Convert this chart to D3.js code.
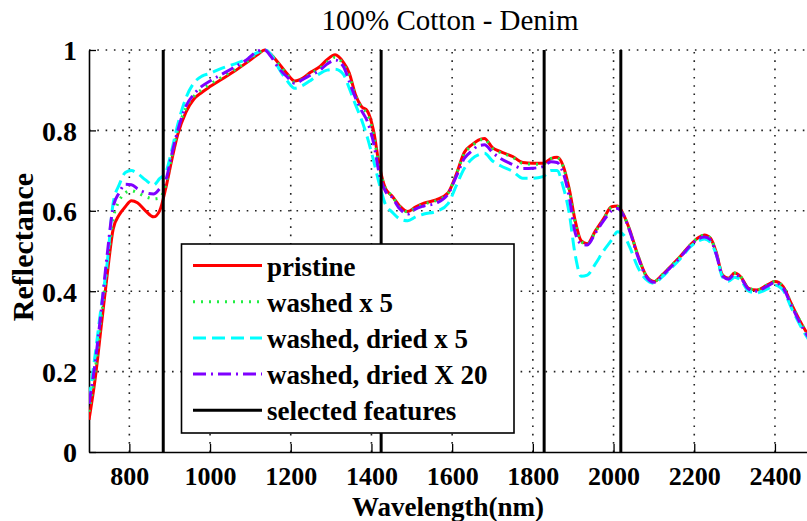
<!DOCTYPE html>
<html>
<head>
<meta charset="utf-8">
<script src="https://cdn.jsdelivr.net/npm/d3@7"></script>
<style>
  html, body { margin: 0; padding: 0; background: #fff; overflow: hidden; }
  svg { display: block; }
  text { font-family: "Liberation Serif", "Times New Roman", serif; fill: #000; }
</style>
</head>
<body>
<svg id="chart" width="807" height="521"></svg>
<script>
// Wavelength samples (nm)
const wavelength = [700, 715, 730, 745, 760, 775, 790, 805, 820, 840, 860, 875, 890, 905, 920, 940, 960, 980,
  1000, 1030, 1060, 1090, 1120, 1135, 1150, 1170, 1190, 1210, 1230, 1250, 1270, 1290, 1310, 1330, 1345, 1360,
  1375, 1390, 1405, 1420, 1435, 1450, 1470, 1490, 1510, 1530, 1560, 1590, 1610, 1630, 1650, 1665, 1680, 1700,
  1720, 1750, 1775, 1800, 1825, 1845, 1860, 1875, 1890, 1905, 1920, 1935, 1955, 1975, 1995, 2010, 2025, 2040,
  2060, 2080, 2100, 2120, 2140, 2165, 2190, 2210, 2225, 2240, 2255, 2270, 2285, 2300, 2315, 2335, 2355, 2380,
  2400, 2420, 2440, 2460, 2480, 2500];

// Normalised reflectance for each sample
const pristine = [.08, .18, .31, .44, .555, .59, .61, .625, .62, .60, .585, .60, .655, .726, .79, .845, .878, .895,
  .909, .928, .947, .968, .99, 1.0, .99, .967, .942, .923, .930, .945, .957, .976, .988, .97, .943, .89,
  .86, .848, .80, .71, .655, .638, .612, .598, .61, .619, .627, .645, .69, .745, .765, .776, .78, .757,
  .747, .735, .72, .718, .718, .73, .733, .712, .655, .575, .525, .518, .55, .58, .61, .612, .59, .553,
  .49, .44, .424, .44, .46, .486, .515, .533, .54, .532, .495, .44, .432, .445, .436, .407, .403, .415,
  .424, .412, .37, .33, .295, .27];

const washed5 = [.10, .20, .33, .46, .58, .625, .645, .65, .645, .635, .63, .632, .665, .735, .80, .855, .885, .902,
  .915, .933, .95, .97, .993, 1.0, .99, .965, .94, .92, .928, .942, .953, .97, .982, .965, .935, .888,
  .857, .84, .79, .705, .655, .638, .61, .597, .608, .617, .625, .644, .69, .742, .762, .774, .778, .755,
  .745, .733, .718, .716, .716, .73, .732, .71, .652, .57, .523, .517, .548, .578, .608, .61, .589, .552,
  .49, .44, .424, .44, .46, .486, .515, .533, .54, .532, .494, .44, .432, .445, .436, .407, .403, .415,
  .424, .412, .37, .33, .295, .27];

const washedDried5 = [.13, .24, .36, .47, .62, .665, .695, .70, .693, .677, .664, .68, .695, .75, .815, .88, .918, .935,
  .942, .955, .965, .977, .995, 1.0, .99, .955, .925, .905, .912, .925, .94, .95, .952, .94, .905, .865,
  .828, .782, .726, .665, .615, .598, .58, .575, .585, .592, .598, .618, .662, .705, .73, .739, .743, .724,
  .712, .698, .681, .681, .685, .70, .70, .66, .595, .49, .437, .44, .468, .50, .527, .548, .54, .51,
  .46, .43, .42, .435, .455, .48, .51, .525, .53, .522, .49, .435, .425, .435, .428, .40, .396, .405,
  .415, .403, .36, .32, .285, .26];

const washedDried20 = [.12, .22, .35, .49, .61, .645, .666, .665, .655, .645, .642, .655, .675, .74, .80, .86, .89, .91,
  .923, .94, .957, .975, .998, 1.0, .985, .955, .934, .917, .927, .938, .948, .965, .975, .96, .922, .882,
  .85, .822, .77, .69, .648, .635, .605, .592, .605, .612, .619, .642, .685, .73, .75, .762, .764, .745,
  .73, .715, .705, .706, .71, .722, .72, .695, .635, .545, .518, .515, .545, .575, .60, .606, .588, .55,
  .487, .438, .422, .438, .458, .484, .513, .53, .535, .528, .49, .438, .43, .442, .433, .405, .40, .412,
  .421, .408, .366, .325, .29, .265];

// Wavelengths of the selected features (nm)
const features = [884, 1424, 1828, 2018];

const xTicks = [800, 1000, 1200, 1400, 1600, 1800, 2000, 2200, 2400];
const yTicks = [0, 0.2, 0.4, 0.6, 0.8, 1];
const yTickLabels = ["0", "0.2", "0.4", "0.6", "0.8", "1"];

const seriesNames = ["pristine", "washed x 5", "washed, dried x 5", "washed, dried X 20"];
const seriesValues = [pristine, washed5, washedDried5, washedDried20];
const featureName = "selected features";

const titleText = "100% Cotton - Denim";
const xLabel = "Wavelength(nm)";
const yLabel = "Reflectance";

// ---- styling ----
const styles = [
  { color: "#ff0000", dash: null },
  { color: "#22ee44", dash: "2,6" },
  { color: "#00ffff", dash: "13,6" },
  { color: "#7f00ff", dash: "13,5,2,5" }
];

const svg = d3.select("#chart");
const W = 807, H = 521;
const plotLeft = 89, plotTop = 50, plotBottom = 452;

const x = d3.scaleLinear().domain([700, 2500]).range([plotLeft, plotLeft + 1800 * 0.4035]);
const y = d3.scaleLinear().domain([0, 1]).range([plotBottom, plotTop]);

svg.append("defs").append("clipPath").attr("id", "plotClip")
  .append("rect").attr("x", plotLeft).attr("y", plotTop - 4)
  .attr("width", W - plotLeft).attr("height", plotBottom - plotTop + 4);

// dotted grid
const grid = svg.append("g").attr("stroke", "#222").attr("stroke-width", 1.6)
  .attr("stroke-dasharray", "1.6,6.7").attr("fill", "none");
xTicks.forEach(t => {
  grid.append("line").attr("x1", x(t)).attr("x2", x(t)).attr("y1", plotBottom).attr("y2", plotTop);
});
yTicks.filter(t => t > 0).forEach(t => {
  grid.append("line").attr("x1", plotLeft).attr("x2", W).attr("y1", y(t)).attr("y2", y(t));
});

// axes
const xAxis = d3.axisBottom(x).tickValues(xTicks).tickSizeInner(-8).tickSizeOuter(0).tickPadding(15)
  .tickFormat(d3.format("d"));
const gx = svg.append("g").attr("transform", `translate(0,${plotBottom})`).call(xAxis);
gx.select(".domain").attr("stroke", "#000").attr("stroke-width", 1.6);
gx.selectAll(".tick line").attr("stroke", "#000").attr("stroke-width", 1.3);
gx.selectAll(".tick text").attr("font-size", 26).attr("font-weight", "bold")
  .attr("font-family", "'Liberation Serif', serif").attr("dy", "0.71em");

const yAxis = d3.axisLeft(y).tickValues(yTicks).tickSizeInner(-7).tickSizeOuter(0).tickPadding(12)
  .tickFormat((d, i) => yTickLabels[i]);
const gy = svg.append("g").attr("transform", `translate(${plotLeft},0)`).call(yAxis);
gy.select(".domain").attr("stroke", "#000").attr("stroke-width", 1.6);
gy.selectAll(".tick line").attr("stroke", "#000").attr("stroke-width", 1.3);
gy.selectAll(".tick text").attr("font-size", 28).attr("font-weight", "bold")
  .attr("font-family", "'Liberation Serif', serif").attr("dy", "0.35em");

// spectra
const line = d3.line().x((d, i) => x(wavelength[i])).y(d => y(d)).curve(d3.curveMonotoneX);
const plot = svg.append("g").attr("clip-path", "url(#plotClip)");
seriesValues.forEach((vals, k) => {
  plot.append("path").datum(vals)
    .attr("d", line)
    .attr("fill", "none")
    .attr("stroke", styles[k].color)
    .attr("stroke-width", 3)
    .attr("stroke-linejoin", "round")
    .attr("stroke-dasharray", styles[k].dash);
});

// selected feature markers
features.forEach(f => {
  plot.append("line").attr("x1", x(f)).attr("x2", x(f)).attr("y1", plotTop).attr("y2", plotBottom)
    .attr("stroke", "#000").attr("stroke-width", 3);
});

// legend
const lg = svg.append("g");
lg.append("rect").attr("x", 181.5).attr("y", 244).attr("width", 332.5).attr("height", 189)
  .attr("fill", "#fff").attr("stroke", "#000").attr("stroke-width", 1.6);
const legendItems = seriesNames.map((n, k) => ({ name: n, color: styles[k].color, dash: styles[k].dash }))
  .concat([{ name: featureName, color: "#000", dash: null }]);
legendItems.forEach((it, i) => {
  const ly = 265.5 + i * 36.2;
  lg.append("line").attr("x1", 193).attr("x2", 262).attr("y1", ly).attr("y2", ly)
    .attr("stroke", it.color).attr("stroke-width", 3).attr("stroke-dasharray", it.dash);
  lg.append("text").attr("x", 267).attr("y", ly + 10).attr("font-size", 27).attr("font-weight", "bold")
    .text(it.name);
});

// titles
svg.append("text").attr("x", 450).attr("y", 30).attr("text-anchor", "middle")
  .attr("font-size", 29).text(titleText);
svg.append("text").attr("x", 448).attr("y", 516).attr("text-anchor", "middle")
  .attr("font-size", 27).attr("font-weight", "bold").text(xLabel);
svg.append("text").attr("transform", "translate(33,247) rotate(-90)").attr("text-anchor", "middle")
  .attr("font-size", 30).attr("font-weight", "bold").text(yLabel);
</script>
</body>
</html>
